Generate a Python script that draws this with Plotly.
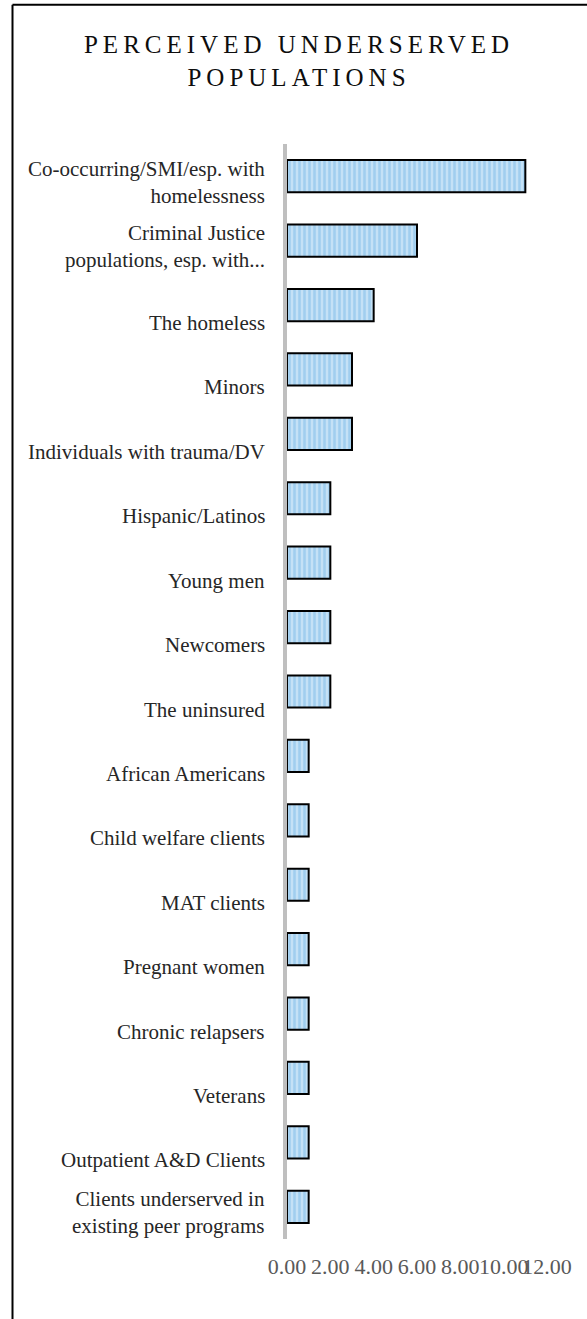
import plotly.graph_objects as go

# Survey responses: perceived underserved populations (count of mentions)
categories = [
    "Co-occurring/SMI/esp. with<br>homelessness",
    "Criminal Justice<br>populations, esp. with...",
    "The homeless",
    "Minors",
    "Individuals with trauma/DV",
    "Hispanic/Latinos",
    "Young men",
    "Newcomers",
    "The uninsured",
    "African Americans",
    "Child welfare clients",
    "MAT clients",
    "Pregnant women",
    "Chronic relapsers",
    "Veterans",
    "Outpatient A&D Clients",
    "Clients underserved in<br>existing peer programs",
]
values = [11, 6, 4, 3, 3, 2, 2, 2, 2, 1, 1, 1, 1, 1, 1, 1, 1]
x_ticks = [0, 2, 4, 6, 8, 10, 12]

W, H = 587, 1319
M_L, M_R, M_T, M_B = 287, 40, 144, 80
plot_w = W - M_L - M_R
plot_h = H - M_T - M_B

SERIF = "Liberation Serif, Times New Roman, serif"

fig = go.Figure(
    go.Bar(
        x=values,
        y=categories,
        orientation="h",
        width=0.5,
        marker=dict(
            color="#c4e1f6",
            line=dict(color="#000000", width=2),
            pattern=dict(shape="|", fgcolor="#7bbbe8", bgcolor="#c4e1f6",
                         size=5, solidity=0.5),
        ),
        hoverinfo="x+y",
    )
)

# category labels, right-aligned left of the axis
for cat in categories:
    two_lines = "<br>" in cat
    fig.add_annotation(
        x=0, xref="x", y=cat, yref="y",
        text=cat, showarrow=False,
        xanchor="right", yanchor="middle", align="right",
        xshift=-20, yshift=-6 if two_lines else -18,
        font=dict(family=SERIF, size=21, color="#262626"),
    )

# outer frame (left and top edges of the chart box)
left_px, top_px = 12.5, 4.7
fx = (left_px - M_L) / plot_w
fy = (H - M_B - top_px) / plot_h
fig.add_shape(type="line", xref="paper", yref="paper",
              x0=fx, x1=fx, y0=fy, y1=-1, line=dict(color="#000000", width=2))
fig.add_shape(type="line", xref="paper", yref="paper",
              x0=fx, x1=2, y0=fy, y1=fy, line=dict(color="#000000", width=2))

fig.update_layout(
    width=W, height=H,
    margin=dict(l=M_L, r=M_R, t=M_T, b=M_B),
    paper_bgcolor="#ffffff",
    plot_bgcolor="#ffffff",
    showlegend=False,
    title=dict(
        text="PERCEIVED UNDERSERVED<br>POPULATIONS",
        x=299 / W, xanchor="center",
        y=1 - 53 / H, yanchor="top", yref="container",
        font=dict(family=SERIF, size=25, color="#0d0d0d"),
    ),
    xaxis=dict(
        range=[0, 12],
        tickvals=x_ticks,
        tickformat=".2f",
        tickangle=0,
        showgrid=False, zeroline=False, showline=False,
        ticks="",
        ticklabelstandoff=12,
        tickfont=dict(family=SERIF, size=22, color="#595959"),
        fixedrange=True,
    ),
    yaxis=dict(
        type="category",
        range=[len(categories) - 0.5, -0.5],
        showticklabels=False,
        showgrid=False, zeroline=False,
        showline=True, linecolor="#bfbfbf", linewidth=4,
        fixedrange=True,
    ),
)

spacing_js = (
    "document.querySelectorAll('.gtitle').forEach(function(t){"
    "t.style.letterSpacing='5px';});"
)
fig.write_html("out.html", post_script=spacing_js)
